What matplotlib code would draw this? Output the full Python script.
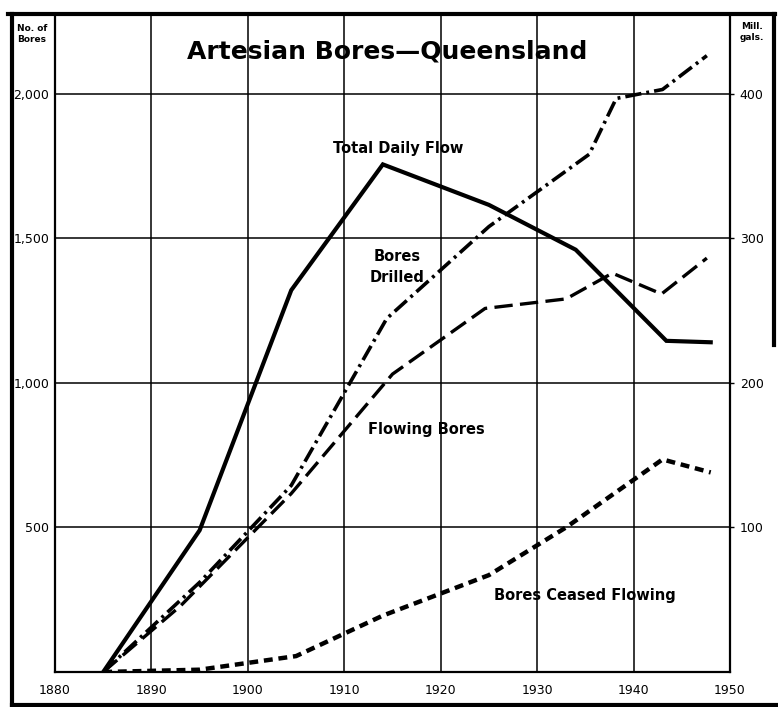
import matplotlib
matplotlib.use("Agg")
import matplotlib.pyplot as plt
from matplotlib.lines import Line2D

plt.rcParams["font.family"] = ["DejaVu Sans"]

# ---- data ----
flow_years = [1885, 1895, 1904.5, 1914, 1925, 1934, 1943.4, 1948]
flow_mgal = [0, 98, 264, 351, 323, 292, 229, 228]            # Mill. gals (right axis)

drilled_years = [1885, 1895, 1904.5, 1914.4, 1925, 1935.4, 1938.2, 1943, 1947.6]
drilled = [0, 310, 645, 1222, 1540, 1790, 1983, 2014, 2131]

flowing_years = [1885, 1893, 1904.5, 1915, 1924.6, 1933, 1937.8, 1942.9, 1947.6]
flowing = [0, 228, 617, 1030, 1257, 1290, 1379, 1307, 1431]

ceased_years = [1885, 1895, 1905, 1914, 1925, 1933, 1943, 1948]
ceased = [0, 8, 55, 195, 335, 500, 735, 690]

x_ticks = [1880, 1890, 1900, 1910, 1920, 1930, 1940, 1950]
left_ticks = [500, 1000, 1500, 2000]
left_labels = ["500", "1,000", "1,500", "2,000"]
right_ticks = [100, 200, 300, 400]

W, H = 778, 707
fig = plt.figure(figsize=(W / 100, H / 100), dpi=100)
fig.patch.set_facecolor("white")

ax = fig.add_axes([55 / W, 1 - 672 / H, (730 - 55) / W, (672 - 14) / H])
ymax = 2275
ax.set_xlim(1880, 1950)
ax.set_ylim(0, ymax)

ax2 = ax.twinx()
ax2.set_ylim(0, ymax / 5)

for s in ax.spines.values():
    s.set_linewidth(1.6)
for s in ax2.spines.values():
    s.set_visible(False)

ax.set_xticks(x_ticks)
ax.set_xticklabels([str(t) for t in x_ticks], fontsize=9)
ax.set_yticks(left_ticks)
ax.set_yticklabels(left_labels, fontsize=9)
ax.tick_params(axis="x", length=0, pad=9)
ax.tick_params(axis="y", length=0, pad=4)
ax.grid(color="black", lw=1.1)
ax.set_axisbelow(True)

ax2.set_yticks(right_ticks)
ax2.set_yticklabels([str(t) for t in right_ticks], fontsize=9)
ax2.tick_params(axis="y", length=3, width=1, pad=4)

# ---- lines ----
ax2.plot(flow_years, flow_mgal, color="black", lw=3.0, solid_joinstyle="miter")
ax.plot(drilled_years, drilled, color="black", lw=2.6,
        linestyle=(0, (4.5, 1.4, 0.8, 1.4)))
ax.plot(flowing_years, flowing, color="black", lw=2.4,
        linestyle=(0, (5.5, 2.2)))
ax.plot(ceased_years, ceased, color="black", lw=3.2,
        linestyle=(0, (2.0, 1.3)))

# ---- labels on the chart ----
lab = dict(fontsize=10.5, fontweight="bold", ha="center", va="center")
ax.text(1915.6, 1810, "Total Daily Flow", **lab)
ax.text(1915.5, 1400, "Bores\nDrilled", linespacing=1.5, **lab)
ax.text(1918.5, 840, "Flowing Bores", **lab)
ax.text(1935, 265, "Bores Ceased Flowing", **lab)

fig.text(387 / W, 1 - 52 / H, "Artesian Bores\u2014Queensland",
         fontsize=18, fontweight="bold", ha="center", va="center")
fig.text(32 / W, 1 - 34 / H, "No. of\nBores", fontsize=6.5, fontweight="bold",
         ha="center", va="center", linespacing=1.2)
fig.text(752 / W, 1 - 32 / H, "Mill.\ngals.", fontsize=6.5, fontweight="bold",
         ha="center", va="center", linespacing=1.3)

# ---- outer frame ----
def fline(xs, ys, lw=3):
    fig.add_artist(Line2D([x / W for x in xs], [1 - y / H for y in ys],
                          color="black", lw=lw, transform=fig.transFigure))

fline([12, 12], [14, 707])
fline([8, 775], [14, 14])
fline([774, 774], [14, 345])
fline([12, 778], [705, 705])

fig.savefig("out.png", dpi=100)
